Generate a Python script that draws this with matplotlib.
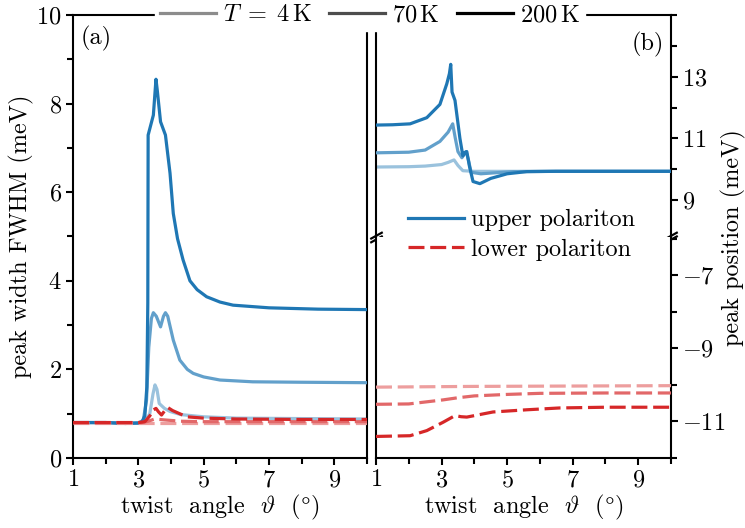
import matplotlib
matplotlib.use("Agg")
import matplotlib.pyplot as plt
import numpy as np
from matplotlib.lines import Line2D
from matplotlib.path import Path
from matplotlib.colors import to_rgb

plt.rcParams['font.family'] = ['cmr10', 'DejaVu Serif']
plt.rcParams['mathtext.fontset'] = 'cm'
plt.rcParams['axes.formatter.use_mathtext'] = True
plt.rcParams['font.size'] = 17.5

# ---- data ----
temps = [r"$T\;=\;4\,\mathrm{K}$", r"$70\,\mathrm{K}$", r"$200\,\mathrm{K}$"]
alphas = [0.45, 0.7, 1.0]

# (a) peak width FWHM, upper polariton
fw_up_x_200 = [1.0, 2.0, 2.6, 3.0, 3.1, 3.2, 3.26, 3.29, 3.30, 3.46, 3.54, 3.58, 3.68, 3.83,
               3.97, 4.07, 4.2, 4.37, 4.58, 4.8, 5.09, 5.5, 5.9, 7.0, 8.5, 10.0]
fw_up_y_200 = [0.80, 0.80, 0.78, 0.79, 0.80, 0.95, 1.6, 3.5, 7.29, 7.74, 8.55, 8.3, 7.59, 7.29,
               6.43, 5.52, 4.95, 4.47, 4.0, 3.8, 3.64, 3.52, 3.45, 3.39, 3.36, 3.35]
fw_up_x_70 = [1.0, 2.0, 2.6, 3.0, 3.15, 3.25, 3.32, 3.40, 3.46, 3.55, 3.68, 3.77, 3.83, 3.9,
              4.07, 4.27, 4.5, 4.68, 5.0, 5.5, 6.5, 8.0, 10.0]
fw_up_y_70 = [0.80, 0.80, 0.78, 0.79, 0.85, 1.3, 2.5, 3.15, 3.28, 3.2, 2.96, 3.2, 3.28, 3.2,
              2.66, 2.21, 2.0, 1.91, 1.83, 1.76, 1.72, 1.71, 1.70]
fw_up_x_4 = [1.0, 2.0, 3.0, 3.2, 3.35, 3.45, 3.51, 3.57, 3.64, 3.8, 3.97, 4.3, 5.0, 6.0, 8.0, 10.0]
fw_up_y_4 = [0.80, 0.80, 0.79, 0.82, 1.0, 1.45, 1.65, 1.55, 1.23, 1.12, 1.05, 0.98, 0.93, 0.90, 0.89, 0.88]

# (a) peak width FWHM, lower polariton
fw_lo_x_200 = [1.0, 2.0, 3.0, 3.2, 3.35, 3.45, 3.54, 3.62, 3.71, 3.8, 3.9, 4.05, 4.48, 5.0, 6.0, 8.0, 10.0]
fw_lo_y_200 = [0.80, 0.80, 0.80, 0.82, 0.95, 1.08, 1.12, 1.04, 0.97, 1.06, 1.14, 1.07, 0.93, 0.90, 0.88, 0.87, 0.87]
fw_lo_x_70 = [1.0, 3.1, 3.3, 3.5, 3.8, 4.3, 5.0, 10.0]
fw_lo_y_70 = [0.80, 0.80, 0.83, 0.88, 0.86, 0.83, 0.82, 0.82]
fw_lo_x_4 = [1.0, 5.0, 10.0]
fw_lo_y_4 = [0.79, 0.79, 0.79]

# (b) peak position, upper polariton
pos_up_x_200 = [1.0, 1.5, 2.04, 2.55, 2.95, 3.16, 3.24, 3.28, 3.32, 3.41, 3.56, 3.65, 3.72, 3.77,
                3.85, 3.96, 4.17, 4.5, 5.0, 5.6, 6.5, 8.0, 10.0]
pos_up_y_200 = [11.43, 11.44, 11.47, 11.67, 12.1, 12.77, 13.1, 13.4, 12.5, 12.23, 11.0, 10.43, 10.55, 10.57,
                10.1, 9.6, 9.53, 9.7, 9.85, 9.92, 9.93, 9.93, 9.93]
pos_up_x_70 = [1.0, 2.0, 2.5, 2.95, 3.2, 3.34, 3.42, 3.5, 3.62, 3.7, 3.75, 3.82, 3.9, 4.2, 4.6, 5.2, 6.5, 10.0]
pos_up_y_70 = [10.53, 10.55, 10.62, 10.9, 11.2, 11.47, 11.0, 10.57, 10.37, 10.5, 10.57, 10.3, 9.9, 9.85,
               9.88, 9.92, 9.93, 9.93]
pos_up_x_4 = [1.0, 2.0, 2.5, 3.0, 3.2, 3.38, 3.5, 3.65, 4.0, 5.0, 10.0]
pos_up_y_4 = [10.07, 10.08, 10.1, 10.15, 10.22, 10.3, 10.12, 9.95, 9.93, 9.93, 9.93]

# (b) peak position, lower polariton
pos_lo_x_200 = [1.0, 2.04, 2.55, 3.05, 3.25, 3.41, 3.6, 3.77, 4.0, 4.57, 5.6, 6.6, 8.0, 10.0]
pos_lo_y_200 = [-11.41, -11.39, -11.25, -11.02, -10.92, -10.84, -10.87, -10.88, -10.84, -10.74,
                -10.68, -10.63, -10.61, -10.61]
pos_lo_x_70 = [1.0, 2.0, 3.04, 3.5, 4.0, 4.98, 6.0, 8.0, 10.0]
pos_lo_y_70 = [-10.53, -10.52, -10.41, -10.35, -10.3, -10.26, -10.23, -10.22, -10.22]
pos_lo_x_4 = [1.0, 4.0, 10.0]
pos_lo_y_4 = [-10.06, -10.04, -10.02]

blue = to_rgb('#1f77b4')
red = to_rgb('#d62728')


def shade(c, a):
    return tuple(1 - a + a * ci for ci in c)


lw = 2.3
dash = (5, 1.8)

fig = plt.figure(figsize=(7.45, 5.28), dpi=100)
ax_a = fig.add_axes([73/745, 1-458/528, (367-73)/745, (458-15)/528])
ax_bt = fig.add_axes([376/745, 1-237/528, (671-376)/745, (237-15)/528])
ax_bb = fig.add_axes([376/745, 1-458/528, (671-376)/745, (458-237)/528])

up_a = [(fw_up_x_4, fw_up_y_4), (fw_up_x_70, fw_up_y_70), (fw_up_x_200, fw_up_y_200)]
lo_a = [(fw_lo_x_4, fw_lo_y_4), (fw_lo_x_70, fw_lo_y_70), (fw_lo_x_200, fw_lo_y_200)]
up_b = [(pos_up_x_4, pos_up_y_4), (pos_up_x_70, pos_up_y_70), (pos_up_x_200, pos_up_y_200)]
lo_b = [(pos_lo_x_4, pos_lo_y_4), (pos_lo_x_70, pos_lo_y_70), (pos_lo_x_200, pos_lo_y_200)]

for i in range(3):
    cb = shade(blue, alphas[i])
    ax_a.plot(*up_a[i], color=cb, lw=lw, zorder=2+i)
    ax_bt.plot(*up_b[i], color=cb, lw=lw, zorder=2+i)
for i in range(3):
    cr = shade(red, alphas[i])
    ax_a.plot(*lo_a[i], color=cr, lw=lw, dashes=dash, zorder=6+i)
    ax_bb.plot(*lo_b[i], color=cr, lw=lw, dashes=dash, zorder=6+i)

xlab = r"twist  angle  $\vartheta$  $(\degree)$"

# panel (a)
ax_a.set_xlim(1, 10)
ax_a.set_ylim(0, 10)
ax_a.set_xticks([1, 3, 5, 7, 9])
ax_a.set_xticks([2, 4, 6, 8, 10], minor=True)
ax_a.set_yticks([0, 2, 4, 6, 8, 10])
ax_a.set_yticks([1, 3, 5, 7, 9], minor=True)
ax_a.set_xlabel(xlab, labelpad=1)
ax_a.set_ylabel("peak width FWHM (meV)", labelpad=2)
ax_a.text(0.025, 0.975, "(a)", transform=ax_a.transAxes, ha='left', va='top')

# panel (b)
for ax in (ax_bt, ax_bb):
    ax.set_xlim(1, 10)
    ax.yaxis.tick_right()
ax_bt.set_ylim(7.8, 15.0)
ax_bb.set_ylim(-12, -5.95)
ax_bt.set_yticks([9, 11, 13])
ax_bt.set_yticks([10, 12, 14, 15], minor=True)
ax_bb.set_yticks([-11, -9, -7])
ax_bb.set_yticks([-12, -10, -8, -6], minor=True)
ax_bt.spines['bottom'].set_visible(False)
ax_bb.spines['top'].set_visible(False)
ax_bt.tick_params(axis='x', which='both', bottom=False, labelbottom=False)
ax_bb.set_xticks([1, 3, 5, 7, 9])
ax_bb.set_xticks([2, 4, 6, 8, 10], minor=True)
ax_bb.set_xlabel(xlab, labelpad=1)
ax_bt.text(0.975, 0.925, "(b)", transform=ax_bt.transAxes, ha='right', va='top')
fig.text(733/745, 1-238/528, "peak position (meV)", rotation=90, ha='center', va='center')

for ax in (ax_a, ax_bt, ax_bb):
    for s in ax.spines.values():
        s.set_linewidth(1.5)
    ax.tick_params(which='major', length=5, width=1.5, direction='out', pad=3)
    ax.tick_params(which='minor', length=4, width=1.5, direction='out')

# break marks
brk = Path([(-1, -0.25), (1, 0.85), (-1, -0.85), (1, 0.25)],
           [Path.MOVETO, Path.LINETO, Path.MOVETO, Path.LINETO])
ax_bt.plot([0, 1], [0, 0], transform=ax_bt.transAxes, ls='none', marker=brk,
           ms=9, mec='k', mew=1.6, clip_on=False, zorder=20)

# temperature legend on top
th = [Line2D([], [], color=shade((0, 0, 0), a), lw=lw) for a in alphas]
fig.legend(th, temps, loc='center', bbox_to_anchor=(370/745, 1-15/528), ncol=3,
           frameon=True, framealpha=1, facecolor='white', edgecolor='white',
           handlelength=2.3, handletextpad=0.3, columnspacing=0.7,
           borderpad=0.2, borderaxespad=0, fancybox=False)

# polariton legend
ph = [Line2D([], [], color=blue, lw=lw), Line2D([], [], color=red, lw=lw, dashes=dash)]
fig.legend(ph, ["upper polariton", "lower polariton"], loc='center left',
           bbox_to_anchor=(386/745, 1-235/528), frameon=False, handlelength=2.3,
           handletextpad=0.3, labelspacing=0.3)

fig.savefig("out.png", dpi=100)
